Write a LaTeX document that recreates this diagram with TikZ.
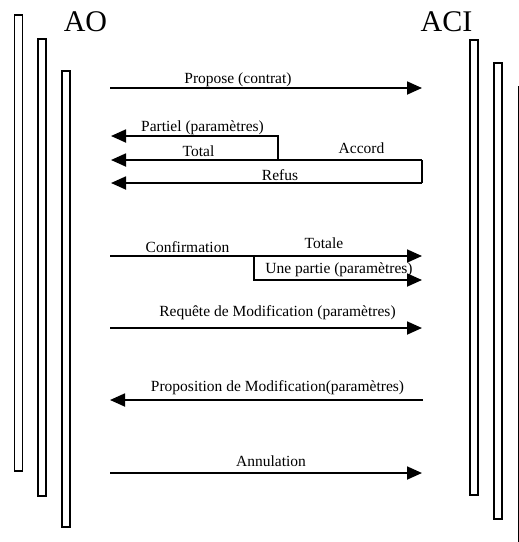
\documentclass[tikz,border=0pt]{standalone}
\usepackage{fontspec}
\setmainfont{Liberation Serif}
\usetikzlibrary{arrows.meta}
\begin{document}
\begin{tikzpicture}[x=1pt,y=-1pt,
  lifebar/.style={draw=black,line width=1.6pt,rectangle,inner sep=0pt,minimum width=8pt},
  msg/.style={line width=1.8pt,-{Triangle[length=15pt,width=13pt]}},
  seg/.style={line width=1.8pt},
  lbl/.style={font=\fontsize{15.5}{17}\selectfont,anchor=base,inner sep=0pt},
  actor/.style={font=\fontsize{30}{32}\selectfont,anchor=base,inner sep=0pt}]
\path[use as bounding box] (0,0) rectangle (519,542);
\clip (0,0) rectangle (519,542);
% lifelines
\node[lifebar,minimum height=456pt] (L1) at (18.5,243) {};
\node[lifebar,minimum height=457pt] (L2) at (42,267.5) {};
\node[lifebar,minimum height=456pt,line width=1.2pt] (L3) at (66,299) {};
\node[lifebar,minimum height=455pt] (R1) at (474,267.5) {};
\node[lifebar,minimum height=456pt] (R2) at (498,291) {};
\node[lifebar,minimum height=520pt] (R3) at (523,347) {};
% actors
\node[actor] (AO) at (85.5,31) {AO};
\node[actor] (ACI) at (446.5,31) {ACI};
% coordinates
\coordinate (p1s) at (110,88);   \coordinate (p1e) at (422,88);
\coordinate (rfs) at (422,183);  \coordinate (rfe) at (111,183);
\coordinate (acc) at (422,160);  \coordinate (tte) at (111,160);
\coordinate (spl) at (278,160);  \coordinate (spu) at (278,136);
\coordinate (pte) at (111,136);
\coordinate (cfs) at (110,256);  \coordinate (cfe) at (422,256);
\coordinate (brs) at (254,256);  \coordinate (brd) at (254,280);
\coordinate (upe) at (422,280);
\coordinate (rqs) at (110,328);  \coordinate (rqe) at (422,328);
\coordinate (pms) at (423,400);  \coordinate (pme) at (110,400);
\coordinate (ans) at (110,473);  \coordinate (ane) at (422,473);
% messages
\draw[msg] (p1s) -- (p1e);
\node[lbl] (tprop) at (238,83) {Propose (contrat)};
\draw[msg] (rfs) -- (rfe);
\draw[seg] (rfs) -- (acc);
\draw[msg] (acc) -- (tte);
\draw[msg] (spl) -- (spu) -- (pte);
\node[lbl] (tpart) at (202.5,131) {Partiel (paramètres)};
\node[lbl] (ttot) at (198.5,156.5) {Total};
\node[lbl] (tacc) at (361.5,153) {Accord};
\node[lbl] (tref) at (280,180) {Refus};
\draw[msg] (cfs) -- (cfe);
\draw[msg] (brs) -- (brd) -- (upe);
\node[lbl] (tconf) at (187.5,252) {Confirmation};
\node[lbl] (ttotale) at (324,248) {Totale};
\node[lbl] (tune) at (339,273.5) {Une partie (paramètres)};
\draw[msg] (rqs) -- (rqe);
\node[lbl] (treq) at (277.5,316.5) {Requête de Modification (paramètres)};
\draw[msg] (pms) -- (pme);
\node[lbl] (tpm) at (277.5,391.5) {Proposition de Modification(paramètres)};
\draw[msg] (ans) -- (ane);
\node[lbl] (tann) at (271,466) {Annulation};
\end{tikzpicture}
\end{document}
